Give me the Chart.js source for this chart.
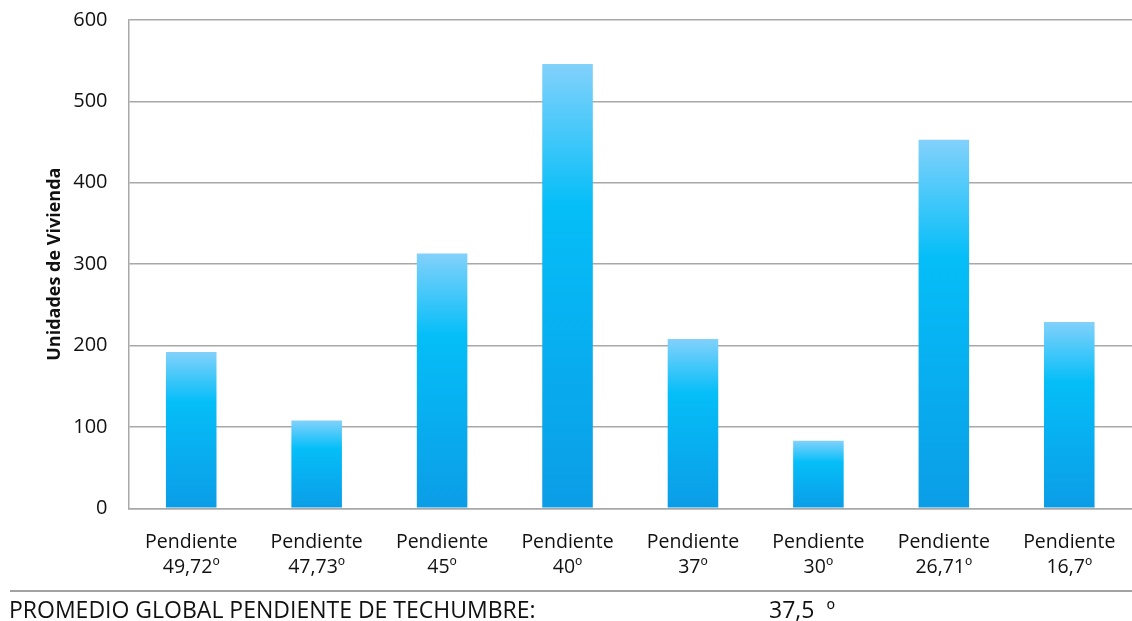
<!DOCTYPE html>
<html lang="es">
<head>
<meta charset="utf-8">
<title>Unidades de Vivienda por pendiente de techumbre</title>
<script src="https://cdn.jsdelivr.net/npm/chart.js@4/dist/chart.umd.min.js"></script>
<style>
  html, body { margin: 0; padding: 0; background: #ffffff; }
  #wrap { position: relative; width: 1132px; height: 621px; overflow: hidden; font-family: "Open Sans", sans-serif; }
  #chart { position: absolute; left: 0; top: 0; }
  #rule { position: absolute; left: 10px; right: 0; top: 590px; height: 0; border-top: 2px solid #a3a3a3; }
  .foot { position: absolute; top: 593px; font-size: 23px; color: #111111; white-space: nowrap; line-height: 32px; }
  #footLabel { left: 9px; }
  #footValue { left: 769px; word-spacing: 6px; }
</style>
</head>
<body>
<div id="wrap">
  <canvas id="chart" width="1132" height="621"></canvas>
  <div id="rule"></div>
  <div class="foot" id="footLabel">PROMEDIO GLOBAL PENDIENTE DE TECHUMBRE:</div>
  <div class="foot" id="footValue">37,5 º</div>
</div>
<script>
// Roof slope categories (two-line labels) and dwelling counts per slope
const slopeLabels = [
  ["Pendiente", "49,72º"],
  ["Pendiente", "47,73º"],
  ["Pendiente", "45º"],
  ["Pendiente", "40º"],
  ["Pendiente", "37º"],
  ["Pendiente", "30º"],
  ["Pendiente", "26,71º"],
  ["Pendiente", "16,7º"]
];
const dwellingUnits = [192, 108, 313, 546, 208, 83, 453, 229];
const yTicks = [0, 100, 200, 300, 400, 500, 600];
const yAxisTitle = "Unidades de Vivienda";

// Vertical gradient per bar, spanning from its top down to the baseline
function barGradient(ctx) {
  const chart = ctx.chart;
  if (!chart.chartArea || ctx.raw === undefined) return '#04bdf8';
  const y = chart.scales.y;
  const top = y.getPixelForValue(ctx.raw);
  const bottom = y.getPixelForValue(0);
  const g = chart.ctx.createLinearGradient(0, top, 0, bottom);
  g.addColorStop(0, '#82d1fb');
  g.addColorStop(0.32, '#05bef8');
  g.addColorStop(1, '#0b9de6');
  return g;
}

const textColor = '#111111';
const gridColor = '#a8a8a8';

new Chart(document.getElementById('chart'), {
  type: 'bar',
  data: {
    labels: slopeLabels,
    datasets: [{
      data: dwellingUnits,
      backgroundColor: barGradient,
      borderWidth: 0,
      barPercentage: 0.403,
      categoryPercentage: 1.0
    }]
  },
  options: {
    responsive: false,
    animation: false,
    layout: { padding: { top: 20, right: 0, bottom: 0, left: 0 } },
    plugins: { legend: { display: false }, tooltip: { enabled: false } },
    scales: {
      x: {
        offset: true,
        grid: { display: false, drawTicks: false },
        border: { display: true, color: gridColor, width: 1.5 },
        ticks: {
          color: textColor,
          font: { family: "'Open Sans', sans-serif", size: 19.5, lineHeight: 1.32 },
          padding: 21,
          maxRotation: 0,
          autoSkip: false
        },
        afterFit(scale) {
          scale.height = 621 - 508.3;
          scale.paddingLeft = 0;
          scale.paddingRight = 0;
        }
      },
      y: {
        min: 0,
        max: 600,
        afterBuildTicks(scale) { scale.ticks = yTicks.map(v => ({ value: v })); },
        grid: { color: gridColor, lineWidth: 1.5, drawTicks: false },
        border: { display: true, color: gridColor, width: 1.5 },
        ticks: { color: textColor, font: { family: "'Open Sans', sans-serif", size: 20 }, padding: 21 },
        title: {
          display: true,
          text: yAxisTitle,
          color: textColor,
          font: { family: "'Open Sans', sans-serif", size: 18, weight: 'bold' },
          padding: { top: 44, bottom: 0 }
        },
        afterFit(scale) {
          scale.width = 128.5;
          scale.paddingTop = 0;
          scale.paddingBottom = 0;
        }
      }
    }
  }
});
</script>
</body>
</html>
